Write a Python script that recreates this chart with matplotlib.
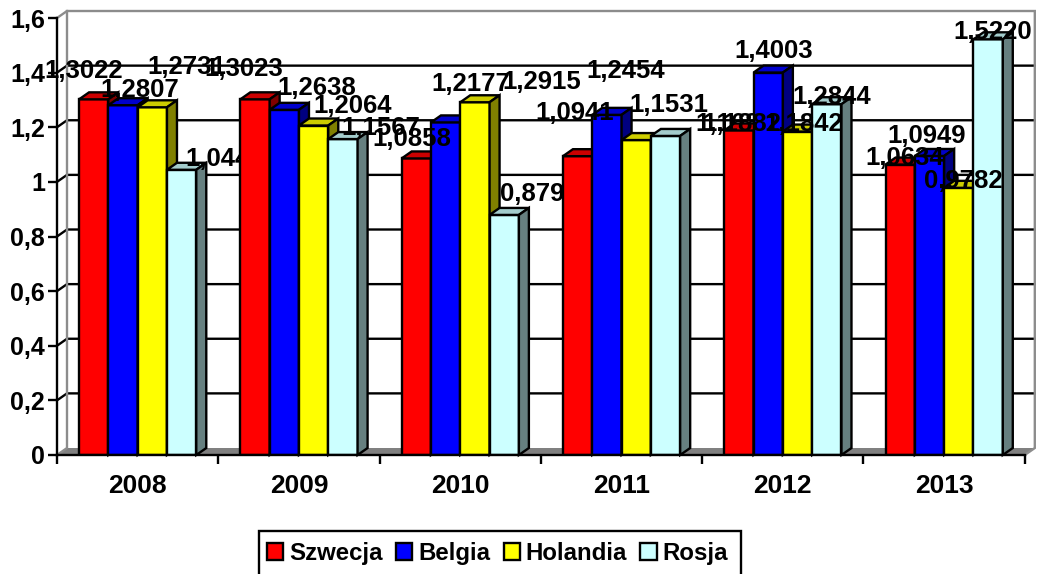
import matplotlib
matplotlib.use("Agg")
import matplotlib.pyplot as plt
import numpy as np
from matplotlib.patches import Patch, Polygon, Rectangle

plt.rcParams["font.family"] = ["Liberation Sans", "DejaVu Sans"]
plt.rcParams["font.weight"] = "bold"

YEARS = ["2008", "2009", "2010", "2011", "2012", "2013"]
SERIES = ["Szwecja", "Belgia", "Holandia", "Rosja"]
SZWECJA = [1.3022, 1.3023, 1.0858, 1.0941, 1.1882, 1.0634]
BELGIA = [1.2807, 1.2638, 1.2177, 1.2454, 1.4003, 1.0949]
HOLANDIA = [1.2731, 1.2064, 1.2915, 1.1531, 1.1842, 0.9782]
ROSJA = [1.0443, 1.1567, 0.8790, 1.1682, 1.2844, 1.5220]
VALUES = [SZWECJA, BELGIA, HOLANDIA, ROSJA]
Y_TICKS = [0, 0.2, 0.4, 0.6, 0.8, 1.0, 1.2, 1.4, 1.6]
Y_LABELS = ["0", "0,2", "0,4", "0,6", "0,8", "1", "1,2", "1,4", "1,6"]

FRONT = ["#FF0000", "#0000FF", "#FFFF00", "#CCFFFF"]
TOP = ["#CC0000", "#0000CC", "#CCCC00", "#A3CCCC"]
SIDE = ["#800000", "#000080", "#808000", "#668080"]

# hand placed labels in the original, pixel offsets from the bar top (per series, per year)
LABEL_DX = [[-10, -11, -4, -2.5, 3, 4],
            [17, 32, 25.5, 19, 5, -2.5],
            [34, 39.5, 67, 33, 6, 4],
            [43.5, 38, 35, 69, 5, 5]]
LABEL_DY = [[28.5, 30.5, 19.5, 43, 6.5, 7],
            [15, 22, 38.5, 44, 22, 20],
            [40.5, 19.5, 20.5, 35, 8, 7],
            [11, 11, 21, 12, 7, 7.5]]

BAR_W = 0.1817
GAP = 0.1367
DX = 0.062  # 3d depth, x units
DY = 0.0256  # 3d depth, y units
LW = 1.7
GRAY = "#8C8C8C"


def fmt(v):
    return f"{v:.4f}".replace(".", ",")


fig = plt.figure(figsize=(10.37, 5.74), dpi=100)
ax = fig.add_axes([57 / 1037, 1 - 455 / 574, 967.8 / 1037, 437 / 574])
ax.patch.set_visible(False)
ax.set_xlim(0, 6)
ax.set_ylim(0, 1.6)

# back wall, floor and grid
ax.add_patch(Polygon([(0, 0), (DX, DY), (6 + DX, DY), (6, 0)], closed=True,
                     facecolor="#808080", edgecolor="none", zorder=1, clip_on=False))
for y in Y_TICKS[1:-1]:
    ax.plot([0, DX, 6 + DX], [y, y + DY, y + DY], color="black", lw=LW, zorder=1.5,
            clip_on=False, solid_joinstyle="miter")
ax.plot([0, DX, 6 + DX, 6 + DX, 6], [1.6, 1.6 + DY, 1.6 + DY, DY, 0], color=GRAY, lw=LW,
        zorder=1.5, clip_on=False, solid_joinstyle="miter")
ax.plot([DX, DX, 0], [1.6 + DY, DY, 0], color=GRAY, lw=LW, zorder=1.5, clip_on=False)

# bars group by group, labels sit under the bars of the next year
for k in range(len(YEARS)):
    base = 10 + 2 * k
    for s, vals in enumerate(VALUES):
        x0 = k + GAP + s * BAR_W
        v = vals[k]
        ax.bar(x0, v, BAR_W, align="edge", color=FRONT[s], edgecolor="black", linewidth=LW,
               zorder=base)
        top = [(x0, v), (x0 + DX, v + DY), (x0 + BAR_W + DX, v + DY), (x0 + BAR_W, v)]
        side = [(x0 + BAR_W, 0), (x0 + BAR_W + DX, DY), (x0 + BAR_W + DX, v + DY), (x0 + BAR_W, v)]
        ax.add_patch(Polygon(top, closed=True, facecolor=TOP[s], edgecolor="black", lw=LW,
                             zorder=base, clip_on=False))
        ax.add_patch(Polygon(side, closed=True, facecolor=SIDE[s], edgecolor="black", lw=LW,
                             zorder=base, clip_on=False))
        ax.annotate(fmt(v), (x0 + BAR_W / 2, v), xytext=(LABEL_DX[s][k], LABEL_DY[s][k]),
                    textcoords="offset pixels", ha="center", va="center", fontsize=18.5,
                    color="black", zorder=base + 1, annotation_clip=False)

for name in ["top", "right"]:
    ax.spines[name].set_visible(False)
for name in ["left", "bottom"]:
    ax.spines[name].set_linewidth(LW)
    ax.spines[name].set_zorder(30)

ax.set_yticks(Y_TICKS)
ax.set_yticklabels(Y_LABELS, fontsize=18)
ax.tick_params(axis="y", length=6.5, width=LW, pad=2)
ax.set_xticks(range(7))
ax.set_xticklabels([])
ax.tick_params(axis="x", which="major", length=6.5, width=LW)
ax.set_xticks(np.arange(6) + 0.5, minor=True)
ax.set_xticklabels(YEARS, minor=True, fontsize=19)
ax.tick_params(axis="x", which="minor", length=0, pad=13.5)

# legend box runs off the bottom of the picture, so the frame is drawn apart
fig.add_artist(Rectangle((259 / 1037, -0.02), 482 / 1037, 1 - 531 / 574 + 0.02,
                         transform=fig.transFigure, facecolor="white", edgecolor="black",
                         linewidth=LW))
handles = [Patch(facecolor=c, edgecolor="black", linewidth=LW, label=n)
           for c, n in zip(FRONT, SERIES)]
fig.legend(handles=handles, ncol=4, loc="upper left",
           bbox_to_anchor=(258 / 1037, 1 - 533 / 574), borderaxespad=0,
           prop={"size": 17.3, "weight": "bold"}, frameon=False,
           handlelength=0.67, handleheight=0.67, handletextpad=0.25,
           columnspacing=0.56, borderpad=0.37)

fig.savefig("out.png", dpi=100)
